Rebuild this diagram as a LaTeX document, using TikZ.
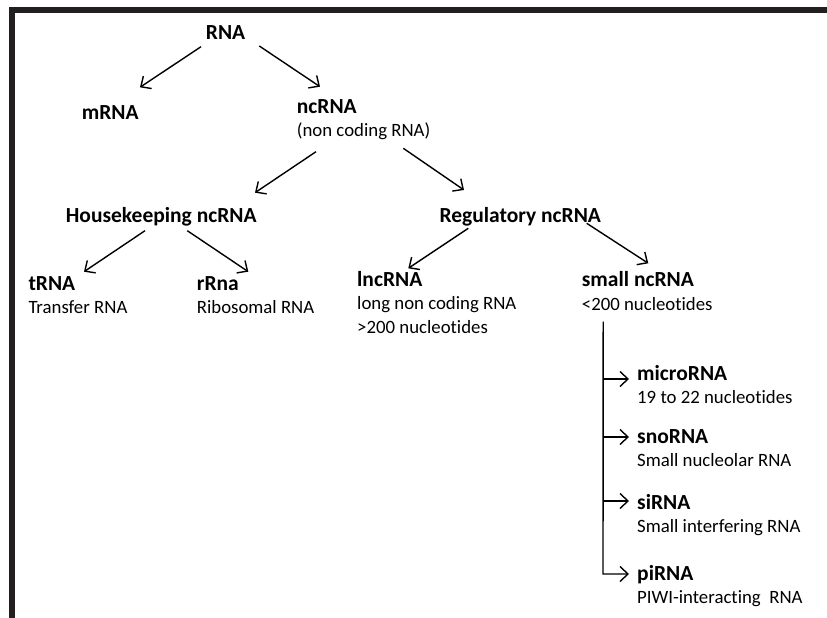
\documentclass[tikz,border=0pt]{standalone}
\usepackage{fontspec}
\setmainfont{Carlito}[Ligatures={NoCommon}]
\usetikzlibrary{arrows.meta}
\definecolor{framecol}{HTML}{231F20}
\begin{document}
\begin{tikzpicture}[x=1pt,y=-1pt,
  title/.style={anchor=base west,inner sep=0pt,font=\fontsize{21.5}{24}\selectfont\bfseries},
  sub/.style={anchor=base west,inner sep=0pt,font=\fontsize{18.8}{22}\selectfont},
  arr/.style={line width=1.4pt,-{Straight Barb[length=8pt,width=15pt,line width=1.4pt]}},
  plain/.style={line width=1.4pt}]
\useasboundingbox (0,0) rectangle (827,618);
\draw[line width=6pt,framecol,line join=miter] (830,10.3) -- (12.2,10.3) -- (12.2,621);
% nodes
\node[title] (rna) at (205.7,40) {RNA};
\node[title] (mrna) at (81.7,119.3) {mRNA};
\node[title] (ncrna) at (296.7,113.3) {ncRNA};
\node[sub] (ncrnasub) at (296.7,136.7) {(non coding RNA)};
\node[title] (house) at (65.7,222) {Housekeeping ncRNA};
\node[title] (reg) at (439.3,222) {Regulatory ncRNA};
\node[title] (trna) at (28.3,290) {tRNA};
\node[sub] (trnasub) at (28.3,313.5) {Transfer RNA};
\node[title] (rrna) at (196.7,290) {rRna};
\node[sub] (rrnasub) at (196.7,313.5) {Ribosomal RNA};
\node[title] (lnc) at (357,286) {lncRNA};
\node[sub] (lncsub) at (357,309.5) {long non coding RNA};
\node[sub] (lncsubb) at (357,333) {>200 nucleotides};
\node[title] (small) at (581.7,286.5) {small ncRNA};
\node[sub] (smallsub) at (581.7,310) {<200 nucleotides};
\node[title] (micro) at (637,380) {microRNA};
\node[sub] (microsub) at (637,403.5) {19 to 22 nucleotides};
\node[title] (sno) at (637,443) {snoRNA};
\node[sub] (snosub) at (637,466.5) {Small nucleolar RNA};
\node[title] (si) at (637,509) {siRNA};
\node[sub] (sisub) at (637,532.5) {Small interfering RNA};
\node[title] (pi) at (637,580) {piRNA};
\node[sub] (pisub) at (637,603.5) {PIWI-interacting~ RNA};
% connectors
\draw[arr] ([shift={(-4.7,6.7)}]rna.base west) -- ([shift={(58.3,-32)}]mrna.base west);
\draw[arr] ([shift={(53.6,6)}]rna.base west) -- ([shift={(23.3,-26.6)}]ncrna.base west);
\draw[arr] ([shift={(19.3,15)}]ncrnasub.base west) -- ([shift={(189.3,-29.3)}]house.base west);
\draw[arr] ([shift={(106.6,11.6)}]ncrnasub.base west) -- ([shift={(24.7,-32)}]reg.base west);
\draw[arr] ([shift={(79.3,8.7)}]house.base west) -- ([shift={(55.7,-18.3)}]trna.base west);
\draw[arr] ([shift={(121.6,8.7)}]house.base west) -- ([shift={(51.6,-18.3)}]rrna.base west);
\draw[arr] ([shift={(29,6.3)}]reg.base west) -- ([shift={(51.3,-17.7)}]lnc.base west);
\draw[arr] ([shift={(147.4,1.3)}]reg.base west) -- ([shift={(66.6,-23.2)}]small.base west);
\draw[arr,line join=miter] ([shift={(21.5,11.7)}]smallsub.base west) -- ([shift={(-34,-6)}]pi.base west) -- ([shift={(-8,-6)}]pi.base west);
\draw[arr] ([shift={(-34,-1)}]micro.base west) -- ([shift={(-8,-1)}]micro.base west);
\draw[arr] ([shift={(-34,-6)}]sno.base west) -- ([shift={(-8,-6)}]sno.base west);
\draw[arr] ([shift={(-34,-8)}]si.base west) -- ([shift={(-8,-8)}]si.base west);
\end{tikzpicture}
\end{document}
